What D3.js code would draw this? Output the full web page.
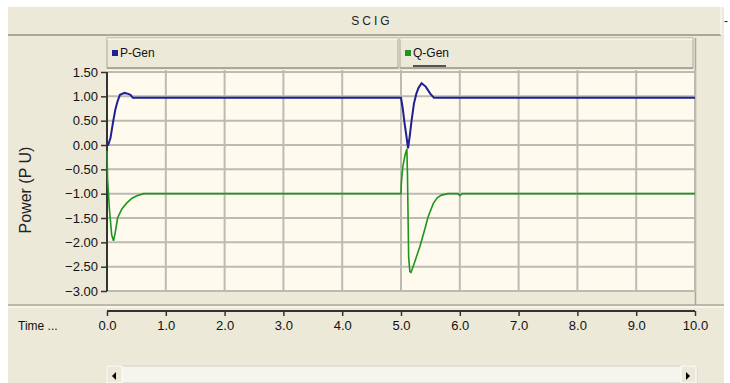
<!DOCTYPE html>
<html>
<head>
<meta charset="utf-8">
<script src="https://cdn.jsdelivr.net/npm/d3@7"></script>
<style>
  body { margin: 0; background: #ffffff; }
  text { font-family: "Liberation Sans", Arial, sans-serif; }
</style>
</head>
<body>
<div id="chart"></div>
<script>
// series (time s, power p.u.)
const pGen = [
  [0, 0], [0.02, 0], [0.06, 0.15], [0.1, 0.45], [0.14, 0.72], [0.18, 0.9], [0.22, 1.03],
  [0.3, 1.07], [0.36, 1.05], [0.4, 1.03], [0.44, 0.97], [5.0, 0.97],
  [5.03, 0.75], [5.06, 0.45], [5.09, 0.2], [5.12, -0.07], [5.15, 0.2], [5.18, 0.5],
  [5.22, 0.85], [5.26, 1.05], [5.3, 1.18], [5.35, 1.27], [5.42, 1.2], [5.5, 1.05],
  [5.56, 0.97], [10.0, 0.97]
];
const qGen = [
  [0, -0.12], [0.01, -0.7], [0.04, -1.3], [0.08, -1.85], [0.11, -1.97], [0.14, -1.8],
  [0.18, -1.5], [0.25, -1.32], [0.33, -1.2], [0.42, -1.1], [0.5, -1.05], [0.62, -1.0],
  [5.0, -1.0], [5.005, -0.8], [5.03, -0.45], [5.07, -0.2], [5.1, -0.08], [5.11, -0.6],
  [5.13, -2.3], [5.15, -2.6], [5.17, -2.62], [5.22, -2.45], [5.32, -2.09], [5.4, -1.75],
  [5.46, -1.48], [5.55, -1.2], [5.62, -1.08], [5.69, -1.03], [5.8, -1.0], [5.97, -1.0],
  [6.0, -1.04], [6.04, -1.0], [10.0, -1.0]
];
const seriesNames = ["P-Gen", "Q-Gen"];
const seriesColors = ["#1f1f96", "#1e961e"];
const xTicks = [0, 1, 2, 3, 4, 5, 6, 7, 8, 9, 10];
const yTicks = [1.5, 1.0, 0.5, 0, -0.5, -1.0, -1.5, -2.0, -2.5, -3.0];

const width = 730, height = 383;
const plot = { left: 107, right: 695, top: 70, bottom: 292 };

const svg = d3.select("#chart").append("svg")
    .attr("width", width).attr("height", height);

// window background
svg.append("rect").attr("width", width).attr("height", height).attr("fill", "#ffffff");
svg.append("rect").attr("x", 8).attr("y", 7).attr("width", 716).attr("height", 376).attr("fill", "#ece9d8");

// title bar
svg.append("rect").attr("x", 8).attr("y", 7).attr("width", 713).attr("height", 28)
    .attr("fill", "#ece9d8");
svg.append("line").attr("x1", 8).attr("x2", 721).attr("y1", 35).attr("y2", 35)
    .attr("stroke", "#aca899").attr("stroke-width", 2);
svg.append("line").attr("x1", 721).attr("x2", 721).attr("y1", 7).attr("y2", 35)
    .attr("stroke", "#ffffff").attr("stroke-width", 1);
svg.append("text").attr("x", 372).attr("y", 25).attr("text-anchor", "middle")
    .attr("font-size", 12).attr("letter-spacing", 3).attr("fill", "#222").text("SCIG");
svg.append("text").attr("x", 724).attr("y", 25).attr("font-size", 12).attr("fill", "#222").text("-");

// right panel edge
svg.append("line").attr("x1", 695.5).attr("x2", 695.5).attr("y1", 38).attr("y2", 305)
    .attr("stroke", "#aca899").attr("stroke-width", 1.5);

const x = d3.scaleLinear().domain([0, 10]).range([plot.left, plot.right]);
const y = d3.scaleLinear().domain([-3, 1.5]).range([291, 72]);

// legend cells
const legendCells = [[107, 398], [400, 693]];
legendCells.forEach((c, i) => {
  svg.append("rect").attr("x", c[0]).attr("y", 38).attr("width", c[1] - c[0]).attr("height", 30)
      .attr("fill", "#ece9d8").attr("stroke", "#aca899").attr("stroke-width", 1);
  svg.append("line").attr("x1", c[0]).attr("x2", c[1]).attr("y1", 39).attr("y2", 39)
      .attr("stroke", "#ffffff");
  svg.append("line").attr("x1", c[0]).attr("x2", c[1]).attr("y1", 68).attr("y2", 68)
      .attr("stroke", "#aca899").attr("stroke-width", 2);
  svg.append("rect").attr("x", c[0] + 5).attr("y", 50).attr("width", 6).attr("height", 6)
      .attr("fill", seriesColors[i]);
  const t = svg.append("text").attr("x", c[0] + 13).attr("y", 57).attr("font-size", 12)
      .attr("fill", "#111").text(seriesNames[i]);
  if (i === 1) {
    svg.append("line").attr("x1", c[0] + 13).attr("x2", c[0] + 46).attr("y1", 66).attr("y2", 66)
        .attr("stroke", "#222").attr("stroke-width", 1.5);
  }
});

// plot area
svg.append("rect").attr("x", plot.left).attr("y", plot.top)
    .attr("width", plot.right - plot.left).attr("height", plot.bottom - plot.top)
    .attr("fill", "#fefaee");

// grid
svg.append("g").selectAll("line").data(xTicks.slice(1)).join("line")
    .attr("x1", d => x(d)).attr("x2", d => x(d))
    .attr("y1", plot.top).attr("y2", plot.bottom)
    .attr("stroke", "#bdbab2").attr("stroke-width", 2);
svg.append("g").selectAll("line").data(yTicks).join("line")
    .attr("x1", plot.left).attr("x2", plot.right)
    .attr("y1", d => y(d)).attr("y2", d => y(d))
    .attr("stroke", "#bdbab2").attr("stroke-width", 2);

// y axis
const yAxis = svg.append("g").attr("transform", `translate(${plot.left},0)`)
    .call(d3.axisLeft(y).tickValues(yTicks).tickSize(6).tickPadding(3)
      .tickFormat(d3.format(".2f")));
yAxis.select(".domain").attr("stroke", "#333").attr("stroke-width", 2)
    .attr("d", `M0,${y(1.5)}V${y(-3)}`);
yAxis.selectAll(".tick line").attr("stroke", "#333").attr("stroke-width", 1.5);
yAxis.selectAll(".tick text").attr("font-size", 13).attr("fill", "#111")
    .attr("font-family", "Liberation Sans Narrow, Liberation Sans, Arial, sans-serif");

svg.append("text").attr("transform", "translate(31,190) rotate(-90)")
    .attr("text-anchor", "middle").attr("font-size", 16).attr("fill", "#222")
    .text("Power (P U)");

// lines
const line = d3.line().x(d => x(d[0])).y(d => y(d[1]));
svg.append("path").datum(qGen).attr("d", line).attr("fill", "none")
    .attr("stroke", seriesColors[1]).attr("stroke-width", 1.6);
svg.append("path").datum(pGen).attr("d", line).attr("fill", "none")
    .attr("stroke", seriesColors[0]).attr("stroke-width", 2);

// separator
svg.append("line").attr("x1", 8).attr("x2", 724).attr("y1", 305).attr("y2", 305)
    .attr("stroke", "#aca899").attr("stroke-width", 1.5);
svg.append("line").attr("x1", 8).attr("x2", 724).attr("y1", 307).attr("y2", 307)
    .attr("stroke", "#ffffff").attr("stroke-width", 1);

// time axis
const xAxis = svg.append("g").attr("transform", "translate(0,311)")
    .call(d3.axisBottom(x).tickValues(xTicks).tickSize(5).tickPadding(5)
      .tickFormat(d3.format(".1f")));
xAxis.select(".domain").attr("stroke", "#333").attr("stroke-width", 2)
    .attr("d", `M${plot.left},0H${plot.right}`);
xAxis.selectAll(".tick line").attr("stroke", "#333").attr("stroke-width", 1.5);
xAxis.selectAll(".tick text").attr("font-size", 13).attr("fill", "#111")
    .attr("font-family", "Liberation Sans Narrow, Liberation Sans, Arial, sans-serif");
svg.append("text").attr("x", 18).attr("y", 330).attr("font-size", 12)
    .attr("font-family", "Liberation Sans Narrow, Liberation Sans, Arial, sans-serif")
    .attr("fill", "#111").text("Time ...");

// scrollbar
svg.append("rect").attr("x", 107).attr("y", 366).attr("width", 590).attr("height", 17)
    .attr("fill", "#f5f4ee").attr("stroke", "#d6d3c6");
[[107, -1], [681, 1]].forEach(b => {
  svg.append("rect").attr("x", b[0]).attr("y", 366).attr("width", 15).attr("height", 17)
      .attr("fill", "#ece9d8").attr("stroke", "#ffffff");
  const cx = b[0] + 7, cy = 376;
  svg.append("path")
      .attr("d", `M${cx - 2 * b[1]},${cy - 4}L${cx + 2 * b[1]},${cy}L${cx - 2 * b[1]},${cy + 4}Z`)
      .attr("fill", "#000");
});
</script>
</body>
</html>
